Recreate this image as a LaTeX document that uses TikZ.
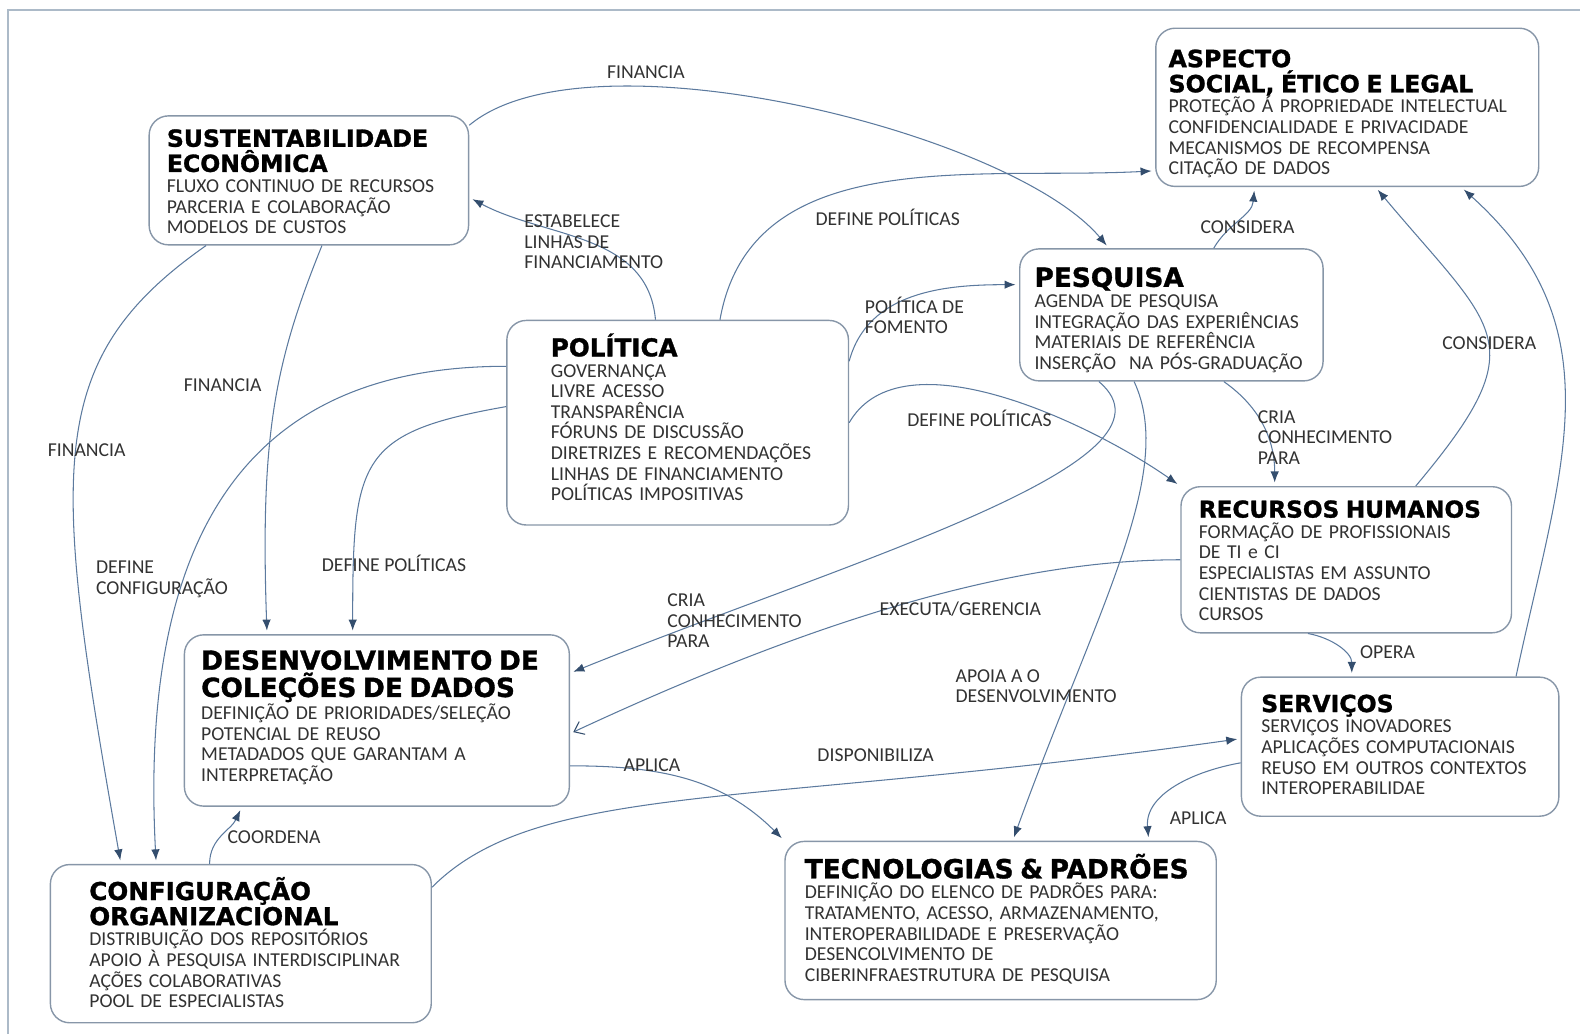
\documentclass[tikz,border=0pt]{standalone}
\usepackage{fontspec}
\setmainfont{Carlito}
\newfontfamily\titlefont[BoldFeatures={FakeBold=1.2}]{DejaVu Sans}
\usepackage{tikz}
\usetikzlibrary{arrows.meta,positioning,calc}

\definecolor{boxline}{RGB}{135,150,168}
\definecolor{linkline}{RGB}{92,122,158}
\definecolor{tipcol}{RGB}{52,78,110}
\definecolor{bodytext}{RGB}{50,50,50}
\definecolor{framecol}{RGB}{172,186,200}

\newlength\pxlen
\setlength\pxlen{0.02015cm}
\newcommand\boxtitle[3]{{\titlefont\bfseries\fontsize{#1}{#2}\selectfont\color{black}#3\par}}

\begin{document}
\begin{tikzpicture}[x=0.02015cm, y=-0.02015cm,
    topic/.style={draw=boxline, line width=0.8pt, rounded corners=11pt, inner sep=0pt},
    topictext/.style={inner sep=0pt, text width=500\pxlen, align=left, text=bodytext,
      font=\fontsize{11.2}{11.75}\selectfont},
    lbl/.style={inner sep=0pt, align=left, text=bodytext, font=\fontsize{11.2}{11.75}\selectfont},
    link/.style={draw=linkline, line width=0.6pt, shorten >=2pt},
    >={Latex[length=0.22cm, width=0.17cm, color=tipcol]}]
  \useasboundingbox (0,0) rectangle (1568,1026);
  \draw[framecol, line width=1pt] (8,1026) -- (8,10) -- (1568,10);

  % boxes
  \node[topic, minimum width=317\pxlen, minimum height=128\pxlen] (sust) at (306.5,179) {};
  \node[topic, minimum width=380\pxlen, minimum height=157\pxlen] (aspecto) at (1337,106.5) {};
  \node[topic, minimum width=301\pxlen, minimum height=131\pxlen] (pesq) at (1162.5,312.5) {};
  \node[topic, minimum width=339\pxlen, minimum height=203\pxlen] (pol) at (672.5,419.5) {};
  \node[topic, minimum width=328\pxlen, minimum height=145\pxlen] (rh) at (1336,555.5) {};
  \node[topic, minimum width=382\pxlen, minimum height=170\pxlen] (desenv) at (374,715) {};
  \node[topic, minimum width=315\pxlen, minimum height=138\pxlen] (serv) at (1389.5,741) {};
  \node[topic, minimum width=378\pxlen, minimum height=157\pxlen] (config) at (239,936.5) {};
  \node[topic, minimum width=428\pxlen, minimum height=157\pxlen] (tecno) at (993,913.5) {};

  % box texts
  \node[topictext, below right=0pt and 18\pxlen of sust.north west] (sust-text)
    {\boxtitle{13.4}{14.3}{\rule{0pt}{31\pxlen}SUSTENTABILIDADE\\ECONÔMICA}
     FLUXO CONTINUO DE RECURSOS\\PARCERIA E COLABORAÇÃO\\MODELOS DE CUSTOS};
  \node[topictext, below right=0pt and 13\pxlen of aspecto.north west] (aspecto-text)
    {\boxtitle{13.5}{14.3}{\rule{0pt}{39\pxlen}ASPECTO\\SOCIAL, ÉTICO E LEGAL}
     PROTEÇÃO Á PROPRIEDADE INTELECTUAL\\CONFIDENCIALIDADE E PRIVACIDADE\\MECANISMOS DE RECOMPENSA\\CITAÇÃO DE DADOS};
  \node[topictext, below right=0pt and 15\pxlen of pesq.north west] (pesq-text)
    {\boxtitle{15}{16}{\rule{0pt}{38\pxlen}PESQUISA}
     AGENDA DE PESQUISA\\INTEGRAÇÃO DAS EXPERIÊNCIAS\\MATERIAIS DE REFERÊNCIA\\INSERÇÃO\ \ NA PÓS-GRADUAÇÃO};
  \node[topictext, below right=0pt and 44\pxlen of pol.north west] (pol-text)
    {\boxtitle{14}{15}{\rule{0pt}{36\pxlen}POLÍTICA}
     GOVERNANÇA\\LIVRE ACESSO\\TRANSPARÊNCIA\\FÓRUNS DE DISCUSSÃO\\DIRETRIZES E RECOMENDAÇÕES\\LINHAS DE FINANCIAMENTO\\POLÍTICAS IMPOSITIVAS};
  \node[topictext, below right=0pt and 18\pxlen of rh.north west] (rh-text)
    {\boxtitle{13.2}{14.3}{\rule{0pt}{31\pxlen}RECURSOS HUMANOS}
     FORMAÇÃO DE PROFISSIONAIS\\DE TI e CI\\ESPECIALISTAS EM ASSUNTO\\CIENTISTAS DE DADOS\\CURSOS};
  \node[topictext, below right=0pt and 17\pxlen of desenv.north west] (desenv-text)
    {\boxtitle{15}{15.5}{\rule{0pt}{35\pxlen}DESENVOLVIMENTO DE\\COLEÇÕES DE DADOS}
     DEFINIÇÃO DE PRIORIDADES/SELEÇÃO\\POTENCIAL DE REUSO\\METADADOS QUE GARANTAM A\\INTERPRETAÇÃO};
  \node[topictext, below right=0pt and 20\pxlen of serv.north west] (serv-text)
    {\boxtitle{13.4}{14.3}{\rule{0pt}{35\pxlen}SERVIÇOS}
     SERVIÇOS INOVADORES\\APLICAÇÕES COMPUTACIONAIS\\REUSO EM OUTROS CONTEXTOS\\INTEROPERABILIDAE};
  \node[topictext, below right=0pt and 39\pxlen of config.north west] (config-text)
    {\boxtitle{14}{14.3}{\rule{0pt}{35.5\pxlen}CONFIGURAÇÃO\\ORGANIZACIONAL}
     DISTRIBUIÇÃO DOS REPOSITÓRIOS\\APOIO À PESQUISA INTERDISCIPLINAR\\AÇÕES COLABORATIVAS\\POOL DE ESPECIALISTAS};
  \node[topictext, below right=0pt and 20\pxlen of tecno.north west] (tecno-text)
    {\boxtitle{15}{16}{\rule{0pt}{37\pxlen}TECNOLOGIAS \& PADRÕES}
     DEFINIÇÃO DO ELENCO DE PADRÕES PARA:\\TRATAMENTO, ACESSO, ARMAZENAMENTO,\\INTEROPERABILIDADE E PRESERVAÇÃO\\DESENCOLVIMENTO DE\\CIBERINFRAESTRUTURA DE PESQUISA};

  % connectors
  \draw[link,->] ([yshift=-10\pxlen]sust.north east) to[out=40,in=130,looseness=0.6] ([xshift=-62\pxlen]pesq.north);
  \draw[link,->] ([xshift=-22\pxlen]pol.north) to[out=95,in=-28] ([yshift=-17\pxlen]sust.east);
  \draw[link,->] ([xshift=42\pxlen]pol.north) to[out=80,in=183] ([yshift=-63\pxlen]aspecto.west);
  \draw[link,->] ([yshift=61\pxlen]pol.east) to[out=75,in=180] ([yshift=30\pxlen]pesq.west);
  \draw[link,->] ([xshift=42\pxlen]pesq.north) to[out=60,in=-95] ([xshift=-92\pxlen]aspecto.south);
  \draw[link,->] ([xshift=69\pxlen]rh.north) to[out=50,in=-50,looseness=1.6] ([xshift=28\pxlen]aspecto.south);
  \draw[link,->] ([xshift=115\pxlen]serv.north) to[out=78,in=-42,looseness=1.1] ([xshift=113\pxlen]aspecto.south);
  \draw[link,->] ([xshift=52\pxlen]pesq.south) to[out=-35,in=90] ([xshift=-71\pxlen]rh.north);
  \draw[link,->] (pol.east) to[out=60,in=145,looseness=0.8] (rh.north west);
  \draw[link,->] ([xshift=-72\pxlen]pesq.south) to[out=-40,in=22,out distance=2.5cm,in distance=6cm] ([yshift=47\pxlen]desenv.east);
  \draw[link,-{Straight Barb[length=0.18cm,width=0.28cm,color=tipcol]}] (rh.west)
    to[out=180,in=25,out distance=3cm,in distance=6cm] ([yshift=-13\pxlen]desenv.east);
  \draw[link,->] ([xshift=-37\pxlen]pesq.south) to[out=-65,in=70,out distance=2cm,in distance=5cm] ([xshift=12\pxlen]tecno.north);
  \draw[link,->] ([yshift=56\pxlen]pol.west) to[out=180,in=93,out distance=4cm,in distance=8cm] ([xshift=-84\pxlen]config.north);
  \draw[link,->] ([yshift=16\pxlen]pol.west) to[out=190,in=90,out distance=3cm,in distance=3.5cm] ([xshift=-24\pxlen]desenv.north);
  \draw[link,->] ([xshift=13\pxlen]sust.south) to[out=-112,in=92,out distance=2.5cm,in distance=4cm] ([xshift=-109\pxlen]desenv.north);
  \draw[link,->] ([xshift=-102\pxlen]sust.south) to[out=-145,in=100,out distance=4cm,in distance=8cm] ([xshift=-119\pxlen]config.north);
  \draw[link,->] ([xshift=-31\pxlen]config.north) to[out=90,in=-115] ([xshift=-134\pxlen]desenv.south);
  \draw[link,->] ([yshift=56\pxlen]config.east) to[out=45,in=188,out distance=3cm,in distance=10cm] ([yshift=8\pxlen]serv.west);
  \draw[link,->] ([yshift=-45\pxlen]desenv.east) to[out=0,in=135] (tecno.north west);
  \draw[link,->] ([yshift=-16\pxlen]serv.west) to[out=190,in=95] ([xshift=147\pxlen]tecno.north);
  \draw[link,->] ([xshift=-38\pxlen]rh.south) to[out=-10,in=90] ([xshift=-48\pxlen]serv.north);

  % labels
  \node[lbl] (financia-top) at (641,72) {FINANCIA};
  \node[lbl, anchor=west] (estabelece) at (520,240) {ESTABELECE\\LINHAS DE\\FINANCIAMENTO};
  \node[lbl] (define-top) at (881,216) {DEFINE POLÍTICAS};
  \node[lbl, anchor=west] (fomento) at (858,313) {POLÍTICA DE\\FOMENTO};
  \node[lbl] (considera-pesq) at (1238,225) {CONSIDERA};
  \node[lbl] (considera-rh) at (1478,341) {CONSIDERA};
  \node[lbl, anchor=west] (cria-rh) at (1248,434) {CRIA\\CONHECIMENTO\\PARA};
  \node[lbl] (define-mid) at (972,415) {DEFINE POLÍTICAS};
  \node[lbl] (financia-dev) at (221,382) {FINANCIA};
  \node[lbl] (financia-cfg) at (86,447) {FINANCIA};
  \node[lbl, anchor=west] (define-cfg) at (95,575) {DEFINE\\CONFIGURAÇÃO};
  \node[lbl] (define-dev) at (391,559) {DEFINE POLÍTICAS};
  \node[lbl, anchor=west] (cria-dev) at (662,616) {CRIA\\CONHECIMENTO\\PARA};
  \node[lbl] (executa) at (953,604) {EXECUTA/GERENCIA};
  \node[lbl, anchor=west] (apoia) at (948,681) {APOIA A O\\DESENVOLVIMENTO};
  \node[lbl] (opera) at (1377,647) {OPERA};
  \node[lbl] (disponibiliza) at (869,749) {DISPONIBILIZA};
  \node[lbl] (aplica-dev) at (647,759) {APLICA};
  \node[lbl] (aplica-serv) at (1189,812) {APLICA};
  \node[lbl] (coordena) at (272,831) {COORDENA};
\end{tikzpicture}
\end{document}
